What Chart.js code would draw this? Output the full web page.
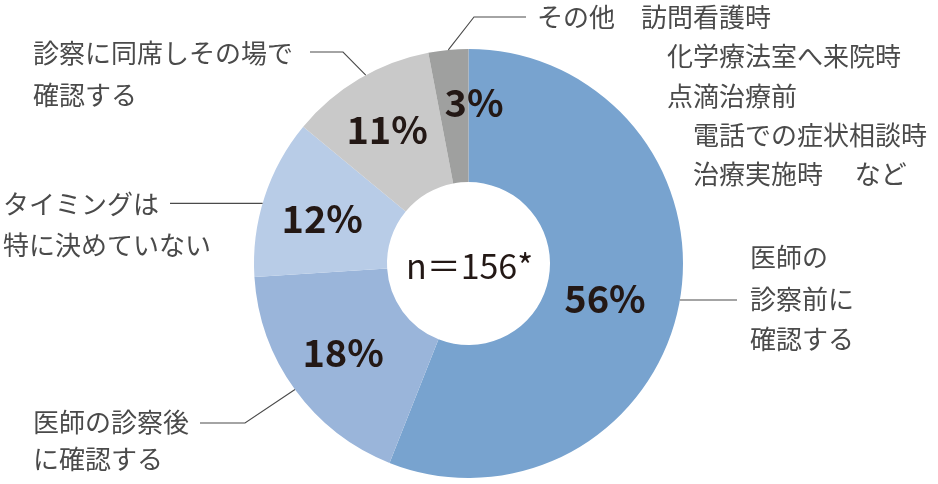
<!DOCTYPE html>
<html>
<head>
<meta charset="utf-8">
<script src="https://cdn.jsdelivr.net/npm/chart.js@4/dist/chart.umd.min.js"></script>
<style>
  body { margin: 0; background: #fff; }
  canvas { display: block; }
</style>
</head>
<body>
<canvas id="donut" width="938" height="484"></canvas>
<script>
// data, clockwise from 12 o'clock
const categories = ['医師の診察前に確認する', '医師の診察後に確認する', 'タイミングは特に決めていない', '診察に同席しその場で確認する', 'その他']
const values = [56, 18, 12, 11, 3]
const centerText = 'n＝156*'

const labelLines = [
  ['医師の', '診察前に', '確認する'],
  ['医師の診察後', 'に確認する'],
  ['タイミングは', '特に決めていない'],
  ['診察に同席しその場で', '確認する'],
  ['その他\u3000訪問看護時', '化学療法室へ来院時', '点滴治療前', '電話での症状相談時', '治療実施時\u3000 など']
]

const colors = ['#78a3cf', '#9ab5da', '#b8cce7', '#c9c9c9', '#9fa09f']

// layout of the outside labels (not data)
// frac: where along the slice the leader starts, pts: leader bends (y null = keep start y)
const leaders = [
  { frac: 0.495, pts: [[737, null]], tx: [750, 750, 750], ty: [257, 299, 339] },
  { frac: 0.5,   pts: [[245, 423], [200, 423]], tx: [33, 33], ty: [422, 459] },
  { frac: 0.46,  pts: [[170, null]], tx: [3, 3], ty: [204, 245] },
  { frac: 0.55,  pts: [[343, 52], [310, 52]], tx: [33, 33], ty: [53, 95] },
  { frac: 0.5,   pts: [[474, 17], [526, 17]], tx: [537, 667, 667, 693, 693], ty: [17, 56, 96, 135, 174] }
]
// percent labels: radius and angle offset (deg) from slice middle
const pctPos = [[141, 3.8], [154, 0.5], [153, -1], [157, -0.6], [161, 7.4]]

const jp = '"Noto Sans CJK JP", "Noto Sans", sans-serif'

const labelsPlugin = {
  id: 'labels',
  afterDraw(chart) {
    const ctx = chart.ctx
    const meta = chart.getDatasetMeta(0)
    ctx.save()
    meta.data.forEach((arc, i) => {
      const p = arc.getProps(['x', 'y', 'startAngle', 'endAngle', 'outerRadius'], true)
      // percent text
      const mid = (p.startAngle + p.endAngle) / 2 + pctPos[i][1] * Math.PI / 180
      ctx.fillStyle = '#231815'
      ctx.font = 'bold 38px ' + jp
      ctx.textAlign = 'center'
      ctx.textBaseline = 'middle'
      ctx.fillText(values[i] + '%', p.x + Math.cos(mid) * pctPos[i][0], p.y + Math.sin(mid) * pctPos[i][0])

      // leader line
      const L = leaders[i]
      const a = p.startAngle + (p.endAngle - p.startAngle) * L.frac
      const sx = p.x + Math.cos(a) * p.outerRadius
      const sy = p.y + Math.sin(a) * p.outerRadius
      ctx.strokeStyle = '#4a4a4a'
      ctx.lineWidth = 1.1
      ctx.beginPath()
      ctx.moveTo(sx, sy)
      L.pts.forEach(pt => ctx.lineTo(pt[0], pt[1] == null ? sy : pt[1]))
      ctx.stroke()

      // label text
      ctx.fillStyle = '#4a4a4a'
      ctx.font = '26px ' + jp
      ctx.textAlign = 'left'
      labelLines[i].forEach((t, j) => ctx.fillText(t, L.tx[j], L.ty[j]))
    })
    // center
    const c = meta.data[0]
    ctx.fillStyle = '#231815'
    ctx.font = '34px ' + jp
    ctx.textAlign = 'center'
    ctx.fillText(centerText, c.x + 1, c.y + 3)
    ctx.restore()
  }
}

const data = {
  labels: categories,
  datasets: [{
    data: values,
    backgroundColor: colors,
    borderWidth: 0
  }]
}

const config = {
  type: 'doughnut',
  data: data,
  options: {
    responsive: false,
    animation: false,
    cutout: '38%',
    layout: { padding: { top: 49, bottom: 6, left: 254, right: 255 } },
    plugins: {
      legend: { display: false },
      tooltip: { enabled: false }
    }
  },
  plugins: [labelsPlugin]
}

const chart = new Chart(document.getElementById('donut'), config)
</script>
</body>
</html>
